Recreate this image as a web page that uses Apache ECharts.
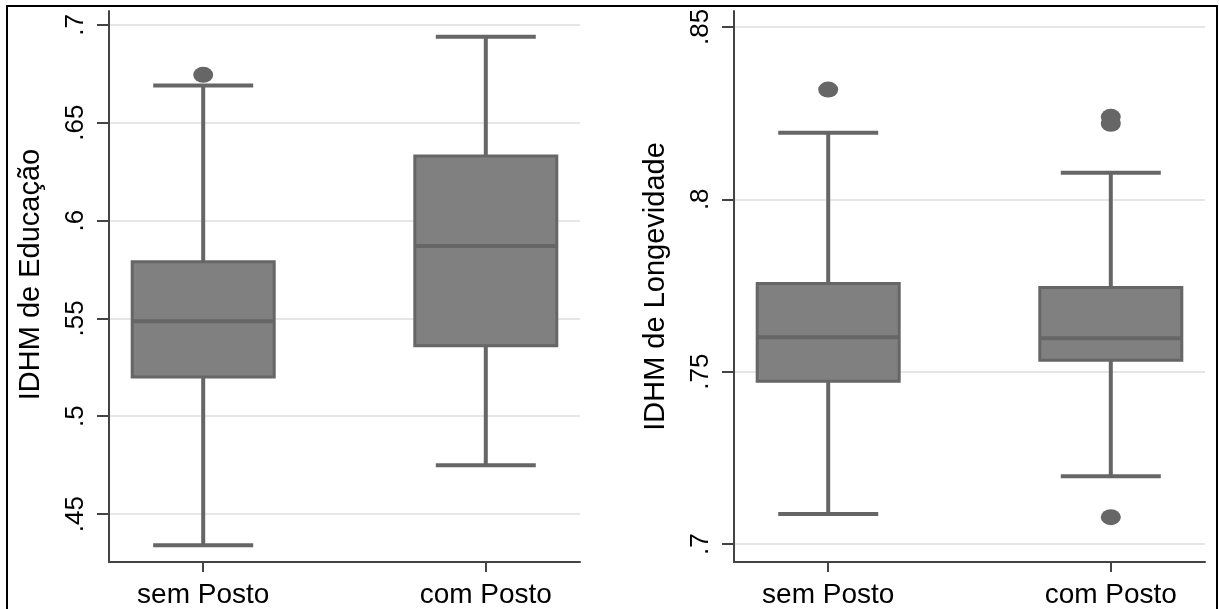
<!DOCTYPE html>
<html>
<head>
<meta charset="utf-8">
<script src="https://cdn.jsdelivr.net/npm/echarts@6/dist/echarts.min.js"></script>
<title>IDHM - sem Posto / com Posto</title>
<style>
  html, body, #main { width: 100%; height: 100%; margin: 0; background: #fff; }
</style>
</head>
<body>
<div id="main"></div>
<script>
// categorias (posição 1 e 2 no eixo x)
var categories = ['sem Posto', 'com Posto'];

// [whisker inferior, Q1, mediana, Q3, whisker superior]
var educacaoBox = [
  [0.434, 0.520, 0.5485, 0.579, 0.669],
  [0.475, 0.536, 0.587, 0.633, 0.694]
];
// [categoria, valor]
var educacaoOutliers = [[1, 0.6745]];

var longevidadeBox = [
  [0.7087, 0.7472, 0.760, 0.7756, 0.8193],
  [0.7197, 0.7533, 0.7597, 0.7744, 0.8077]
];
var longevidadeOutliers = [[1, 0.8318], [2, 0.8239], [2, 0.8219], [2, 0.7078]];

var educacaoTicks = [0.45, 0.5, 0.55, 0.6, 0.65, 0.7];
var longevidadeTicks = [0.7, 0.75, 0.8, 0.85];

var myChart = echarts.init(document.getElementById('main'));

var FONT = 'Liberation Sans, Arial, sans-serif';
var GREY = '#666666';

// formato Stata: .65, .7 ...
function fmt(v) {
  return String(+v.toFixed(3)).replace(/^0/, '');
}

function boxData(arr) {
  return arr.map(function (b, i) { return [i + 1].concat(b); });
}

function renderBox(params, api) {
  var x = api.value(0);
  var c = [1, 2, 3, 4, 5].map(function (d) { return api.coord([x, api.value(d)]); });
  var cx = c[0][0];
  var hw = 71, cw = 50;
  var ln = { stroke: GREY, lineWidth: 4 };
  return {
    type: 'group',
    children: [
      { type: 'line', shape: { x1: cx, y1: c[0][1], x2: cx, y2: c[1][1] }, style: ln },
      { type: 'line', shape: { x1: cx, y1: c[3][1], x2: cx, y2: c[4][1] }, style: ln },
      { type: 'line', shape: { x1: cx - cw, y1: c[0][1], x2: cx + cw, y2: c[0][1] }, style: ln },
      { type: 'line', shape: { x1: cx - cw, y1: c[4][1], x2: cx + cw, y2: c[4][1] }, style: ln },
      { type: 'rect', shape: { x: cx - hw, y: c[3][1], width: 2 * hw, height: c[1][1] - c[3][1] },
        style: { fill: '#808080', stroke: GREY, lineWidth: 3 } },
      { type: 'line', shape: { x1: cx - hw, y1: c[2][1], x2: cx + hw, y2: c[2][1] }, style: ln }
    ]
  };
}

function xAxisOpt(idx) {
  return {
    type: 'value', gridIndex: idx, min: 2 / 3, max: 7 / 3,
    axisLine: { show: true, lineStyle: { color: '#444', width: 2 } },
    axisTick: { show: true, length: 10, customValues: [1, 2], lineStyle: { color: '#444', width: 2 } },
    axisLabel: {
      customValues: [1, 2], margin: 19, color: '#000', fontFamily: FONT, fontSize: 28,
      formatter: function (v) { return categories[Math.round(v) - 1]; }
    },
    splitLine: { show: false }
  };
}

function yAxisOpt(idx, name, min, max, ticks, namePad) {
  return {
    type: 'value', gridIndex: idx, min: min, max: max,
    name: name, nameLocation: 'middle', nameRotate: 90, nameGap: 64,
    nameTextStyle: { color: '#000', fontFamily: FONT, fontSize: 29, padding: namePad },
    axisLine: { show: true, lineStyle: { color: '#444', width: 2 } },
    axisTick: { show: true, length: 12, customValues: ticks, lineStyle: { color: '#444', width: 2 } },
    axisLabel: {
      customValues: ticks, rotate: 90, margin: 20, color: '#000', fontFamily: FONT, fontSize: 26,
      formatter: fmt
    },
    splitLine: { show: true, lineStyle: { color: '#e6e6e6', width: 2 } }
  };
}

var option = {
  backgroundColor: '#fff',
  animation: false,
  grid: [
    { left: 109, right: 1219 - 580, top: 11, bottom: 609 - 563 },
    { left: 734, right: 1219 - 1205, top: 11, bottom: 609 - 563 }
  ],
  xAxis: [xAxisOpt(0), xAxisOpt(1)],
  yAxis: [
    yAxisOpt(0, 'IDHM de Educação', 0.4255, 0.7071, educacaoTicks, [0, 0, 0, 24]),
    yAxisOpt(1, 'IDHM de Longevidade', 0.6948, 0.8546, longevidadeTicks, [0, 0, 0, 0])
  ],
  graphic: [{
    type: 'rect', silent: true, z: 100,
    shape: { x: 7, y: 6, width: 1210, height: 660 },
    style: { fill: 'none', stroke: '#000', lineWidth: 2 }
  }],
  series: [
    {
      type: 'custom', xAxisIndex: 0, yAxisIndex: 0,
      renderItem: renderBox, data: boxData(educacaoBox),
      encode: { x: 0, y: [1, 2, 3, 4, 5] }
    },
    {
      type: 'scatter', xAxisIndex: 0, yAxisIndex: 0,
      symbol: 'circle', symbolSize: [20, 16],
      itemStyle: { color: GREY, opacity: 1 },
      data: educacaoOutliers
    },
    {
      type: 'custom', xAxisIndex: 1, yAxisIndex: 1,
      renderItem: renderBox, data: boxData(longevidadeBox),
      encode: { x: 0, y: [1, 2, 3, 4, 5] }
    },
    {
      type: 'scatter', xAxisIndex: 1, yAxisIndex: 1,
      symbol: 'circle', symbolSize: [20, 16],
      itemStyle: { color: GREY, opacity: 1 },
      data: longevidadeOutliers
    }
  ]
};

myChart.setOption(option);

window.onresize = function () {
  myChart.resize();
};
</script>
</body>
</html>
